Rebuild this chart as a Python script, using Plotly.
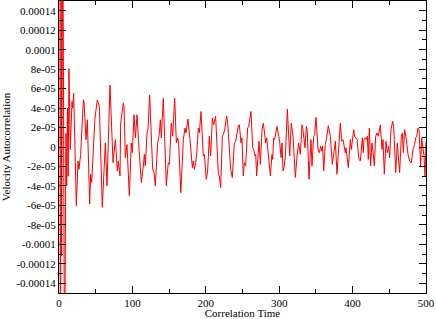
import plotly.graph_objects as go

# Correlation time values
time = [0, 1, 2, 3, 3.6, 5, 6, 7.5, 9.5, 10.5, 11.5, 12.5,
        13.6, 15.4, 17.7, 18.6, 20.0, 23.6, 25.9, 27.2, 29.5, 33.2, 34.1, 36.8, 38.6,
        41.8, 43.1, 44.5, 47.7, 49.0, 52.2, 55.0, 59.0, 63.1, 65.4, 69.5, 73.6, 76.8,
        79.5, 80.8, 83.1, 84.0, 87.6, 88.6, 90.4, 92.6, 95.8, 98.5, 99.9, 102.2, 104.0,
        106.3, 109.0, 112.2, 114.9, 116.3, 117.6, 119.9, 121.2, 123.5, 127.6, 129.4,
        131.2, 134.4, 136.2, 138.1, 139.4, 142.1, 146.2, 148.9, 150.3, 153.0, 154.9,
        157.6, 159.9, 161.7, 163.0, 166.0, 169.4, 171.7, 173.0, 175.7, 178.5, 181.7,
        183.0, 184.4, 186.2, 187.6, 189.8, 191.2, 193.5, 196.6, 198.0, 200.7, 202.5,
        204.8, 206.6, 208.9, 210.7, 213.4, 217.1, 218.4, 220.3, 222.5, 223.9, 225.7,
        228.4, 229.8, 233.9, 236.1, 238.9, 240.7, 244.3, 245.7, 248.0, 249.3, 251.1,
        252.5, 254.3, 257.0, 258.4, 261.6, 263.9, 265.2, 267.0, 268.0, 269.3, 272.5,
        274.3, 276.6, 278.4, 281.6, 283.0, 284.3, 288.0, 290.2, 291.1, 292.5, 293.8,
        297.0, 300.6, 302.5, 303.8, 305.2, 307.0, 308.4, 311.1, 314.3, 316.5, 318.8,
        322.0, 324.3, 326.5, 328.8, 331.1, 332.4, 333.8, 335.1, 337.0, 338.3, 340.6,
        343.3, 344.7, 347.0, 348.3, 350.1, 352.9, 354.7, 356.5, 357.9, 359.2, 360.6,
        362.8, 364.2, 366.9, 369.7, 372.4, 374.2, 376.5, 378.7, 383.3, 385.1, 386.9,
        390.1, 391.0, 394.2, 396.9, 398.3, 401.5, 402.8, 406.0, 408.7, 410.5, 413.3,
        414.6, 415.5, 417.3, 418.7, 420.1, 421.4, 422.8, 424.6, 426.4, 427.8, 429.6,
        431.4, 433.2, 435.1, 437.8, 440.1, 441.4, 443.2, 445.5, 447.3, 449.1, 450.5,
        452.3, 454.6, 456.0, 458.7, 460.9, 464.1, 466.4, 467.8, 469.1, 470.9, 473.2,
        475.5, 477.7, 480.0, 482.3, 484.6, 485.9, 487.3, 489.1, 490.5, 492.7, 494.1,
        495.9, 497.3, 498.6, 500.0]

# Velocity autocorrelation, in units of 1e-5
vacf_e5 = [120, 60, -40, 30, -11.2, 25, 9.4, -25, 1.4, -4, 4, -3,
           8.06, -0.25, 4.67, 3.99, 5.52, -6.03, -1.44, -2.29, -0.76, 4.84, 4.67, 0.76, 2.80,
           -5.86, -2.80, -3.65, 1.95, 2.97, 4.84, 4.16, -6.2, 0.42, -4.0, 6.36, -1.6, 0.76,
           -2.46, -1.44, -2.97, 2.46, 4.50, 4.16, -1.10, 0.25, -5.0, 0.42, -0.59, 3.31, 0.93,
           3.31, -0.25, -3.65, -1.95, -0.76, -1.95, 1.44, 1.78, 5.35, -2.29, -2.63,
           -3.99, 0.42, 1.1, 2.8, 0.93, 5.0, -3.99, -1.61, -1.78, 2.46, 1.1,
           5.0, 0.42, 0.93, 0.42, -4.7, 0.76, 1.95, 1.44, 2.87, 0.76, -2.12,
           -1.44, -2.29, -1.61, -0.76, 1.95, 1.44, 3.65, -0.93, -0.76, -3.31, -2.46,
           1.1, -0.93, 2.97, 2.29, 3.14, -2.80, -2.97, -4.16, 1.1, 1.27, 1.78,
           3.2, 2.46, -2.29, -3.14, 0.42, 0.59, 2.19, 2.29, 0.42, 0.93, -2.97,
           -1.61, -1.95, 1.95, 2.12, 3.65, -0.08, -0.25, -0.93, -0.76, -2.97, 0.59,
           -1.78, 1.78, 2.46, 0.42, 0.93, -0.25, -2.97, -0.76, -1.27, 0.93, 0.76,
           2.12, 0.59, -1.10, 0.42, -2.46, -1.95, -0.93, 3.9, -0.93, 2.46, 1.10,
           -3.14, -0.93, 0.42, -0.76, 2.29, 1.78, 0.93, -0.08, 2.12, 1.61, -3.31,
           0.76, -1.95, 1.10, 1.27, 3.04, -0.25, -0.59, 0.08, -0.42, 0.08, -2.46,
           0.25, 0.76, 2.19, 1.10, -1.78, -0.93, 0.59, -2.80, 2.46, 0.59, 0.76,
           -0.59, -0.08, -2.12, 0.76, -0.25, 1.78, 1.10, 0.76, -1.27, -1.44, 0.93,
           -0.59, 0.76, 0.93, 0.76, 1.10, -1.27, 1.95, -1.95, 0.42, -0.42, -1.95,
           1.10, 1.44, 1.10, 2.29, -0.25, 0.76, -2.80, 0.59, -0.59, 0.08, -1.10,
           1.78, 2.63, 2.12, -2.63, 0.42, -2.63, 1.10, 1.44, -0.59, 1.78, 0.76,
           -0.76, -1.44, -1.61, -0.25, 0.25, 0.93, 1.10, 1.95, 1.78, -1.95, 0.93,
           0.08, -0.93, -2.97, 0.5]

vacf = [v * 1e-5 for v in vacf_e5]

# Axis ticks
x_tickvals = [0, 100, 200, 300, 400, 500]
x_ticktext = ["0", "100", "200", "300", "400", "500"]
y_tickvals = [0.00014, 0.00012, 0.0001, 8e-05, 6e-05, 4e-05, 2e-05, 0,
              -2e-05, -4e-05, -6e-05, -8e-05, -0.0001, -0.00012, -0.00014]
y_ticktext = ["0.00014", "0.00012", "0.0001", "8e-05", "6e-05", "4e-05", "2e-05", "0",
              "-2e-05", "-4e-05", "-6e-05", "-8e-05", "-0.0001", "-0.00012", "-0.00014"]

font = dict(family="Liberation Serif, Times New Roman, serif", size=11, color="black")

fig = go.Figure()
fig.add_trace(go.Scatter(x=time, y=vacf, mode="lines",
                         line=dict(color="red", width=1), showlegend=False))

fig.update_layout(
    width=436, height=319,
    margin=dict(l=59, r=10, t=1, b=26, autoexpand=False),
    paper_bgcolor="white", plot_bgcolor="white",
    font=font,
    xaxis=dict(
        range=[0, 500], tickmode="array", tickvals=x_tickvals, ticktext=x_ticktext,
        ticks="inside", ticklen=7, tickwidth=1, tickcolor="black",
        showline=True, linecolor="black", linewidth=1, mirror="allticks",
        showgrid=False, zeroline=False,
        minor=dict(ticks="inside", ticklen=4, tickwidth=1, tickcolor="black", dtick=50, showgrid=False),
        title=dict(text="Correlation Time", font=font, standoff=2),
        tickfont=font, automargin=True,
    ),
    yaxis=dict(
        range=[-0.00015, 0.00015], tickmode="array", tickvals=y_tickvals, ticktext=y_ticktext,
        ticks="inside", ticklen=7, tickwidth=1, tickcolor="black",
        showline=True, linecolor="black", linewidth=1, mirror="allticks",
        showgrid=False, zeroline=False,
        minor=dict(ticks="inside", ticklen=4, tickwidth=1, tickcolor="black", dtick=1e-05, showgrid=False),
        title=dict(text="Velocity Autocorrelation", font=font, standoff=4),
        tickfont=font, automargin=False,
    ),
)

fig.write_html("out.html", config={"displayModeBar": False},
               post_script="document.body.style.margin='0';")
